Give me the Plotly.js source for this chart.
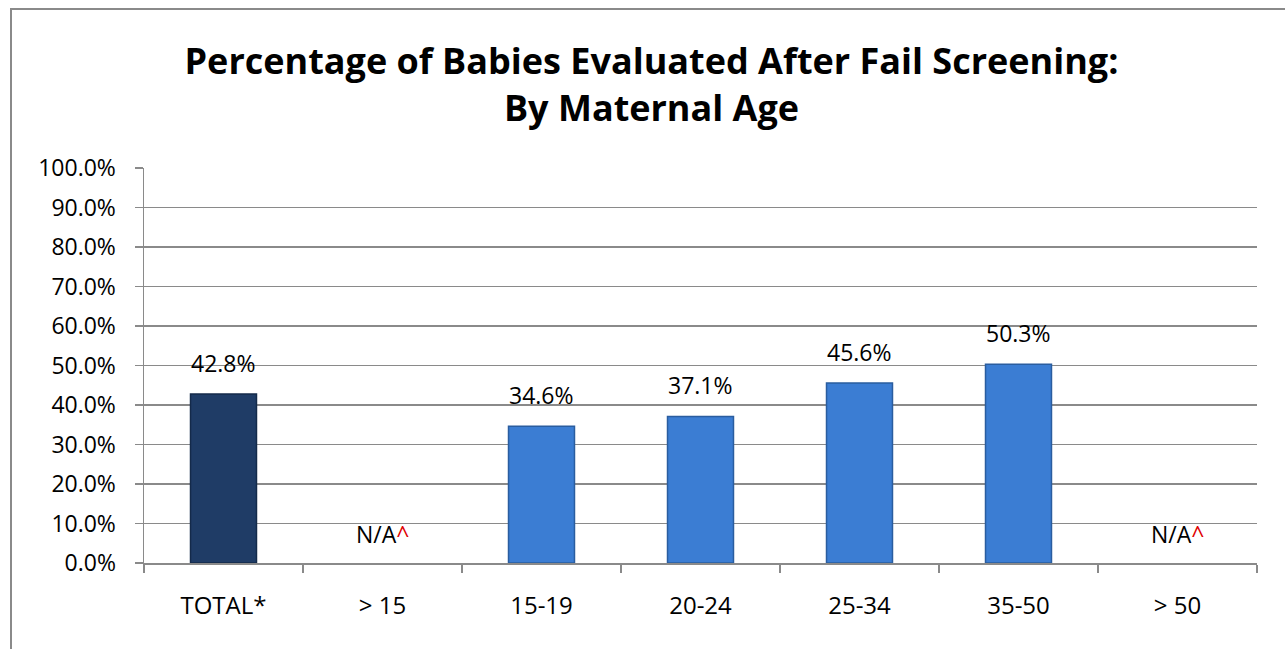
<!DOCTYPE html>
<html>
<head>
<meta charset="utf-8">
<script src="https://cdn.plot.ly/plotly-3.0.1.min.js"></script>
<style>
  html, body { margin: 0; padding: 0; background: #fff; }
  #wrap { position: relative; width: 1285px; height: 649px; overflow: hidden; }
  #frame { position: absolute; left: 10px; top: 8px; width: 1300px; height: 700px;
           border: 2px solid #8a8a8a; box-sizing: border-box; pointer-events: none; }
  #chart { position: absolute; left: 0; top: 0; width: 1285px; height: 649px; }
</style>
</head>
<body>
<div id="wrap">
  <div id="frame"></div>
  <div id="chart"></div>
</div>
<script>
// ---- data ----
const categories = ["TOTAL*", "> 15", "15-19", "20-24", "25-34", "35-50", "> 50"];
const values = [0.428, null, 0.346, 0.371, 0.456, 0.503, null];
const valueLabels = ["42.8%", null, "34.6%", "37.1%", "45.6%", "50.3%", null];
const missingLabel = 'N/A<span style="color:#e00000">^</span>';
const tickVals = [0, 0.1, 0.2, 0.3, 0.4, 0.5, 0.6, 0.7, 0.8, 0.9, 1.0];

// ---- styles ----
const totalColor = "#1f3c66";
const groupColor = "#3b7dd3";
const FONT = "'Open Sans', 'Noto Sans', sans-serif";

const barColors = categories.map((c, i) => i === 0 ? totalColor : groupColor);
const lineColors = categories.map((c, i) => i === 0 ? "#142a4a" : "#2a5d9f");

const trace = {
  type: "bar",
  x: categories,
  y: values,
  width: 0.415,
  marker: { color: barColors, line: { color: lineColors, width: 1.5 } },
  hoverinfo: "skip"
};

const annotations = [];
categories.forEach((c, i) => {
  if (values[i] === null) {
    annotations.push({
      x: c, y: 0, xref: "x", yref: "y", text: missingLabel, showarrow: false,
      yanchor: "bottom", yshift: 11, font: { family: FONT, size: 23, color: "#000" }
    });
  } else {
    annotations.push({
      x: c, y: values[i], xref: "x", yref: "y", text: valueLabels[i], showarrow: false,
      yanchor: "bottom", yshift: 13, font: { family: FONT, size: 23, color: "#000" }
    });
  }
});

const layout = {
  width: 1285, height: 649,
  margin: { l: 144, r: 28, t: 168, b: 86 },
  paper_bgcolor: "rgba(0,0,0,0)",
  plot_bgcolor: "rgba(0,0,0,0)",
  showlegend: false,
  font: { family: FONT, color: "#000" },
  title: {
    text: "<b>Percentage of Babies Evaluated After Fail Screening:<br>By Maternal Age</b>",
    x: 0.507, xanchor: "center", xref: "container",
    y: 0.886, yanchor: "middle", yref: "container",
    font: { family: FONT, size: 36, color: "#000" }
  },
  xaxis: {
    type: "category",
    showgrid: false,
    showline: true, linecolor: "#8a8a8a", linewidth: 1.5,
    ticks: "outside", tickson: "boundaries", ticklen: 8, tickcolor: "#8a8a8a", tickwidth: 1.5,
    ticklabelstandoff: 21,
    tickfont: { family: FONT, size: 24, color: "#000" },
    zeroline: false,
    fixedrange: true
  },
  yaxis: {
    range: [0, 1.0],
    tickvals: tickVals,
    tickformat: ".1%",
    showgrid: true, gridcolor: "#8a8a8a", gridwidth: 1.5,
    showline: true, linecolor: "#8a8a8a", linewidth: 1.5,
    ticks: "outside", ticklen: 8, tickcolor: "#8a8a8a", tickwidth: 1.5,
    ticklabelstandoff: 14,
    tickfont: { family: FONT, size: 23, color: "#000" },
    zeroline: false,
    fixedrange: true
  },
  annotations: annotations
};

Plotly.newPlot("chart", [trace], layout, { staticPlot: true, displayModeBar: false });
</script>
</body>
</html>
